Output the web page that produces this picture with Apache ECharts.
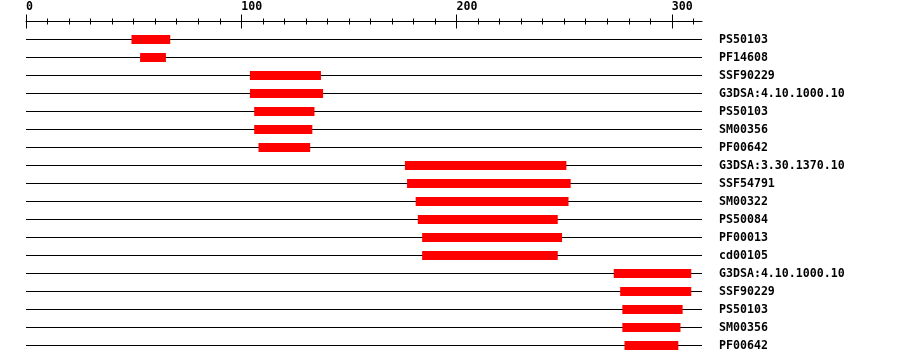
<!DOCTYPE html>
<html>
<head>
<meta charset="utf-8">
<script src="https://cdn.jsdelivr.net/npm/echarts@6/dist/echarts.min.js"></script>
<style>
html,body{margin:0;padding:0;background:#fff;}
#c{width:900px;height:364px;}
</style>
</head>
<body>
<div id="c"></div>
<script>
var rowLabels = ['PS50103','PF14608','SSF90229','G3DSA:4.10.1000.10','PS50103','SM00356','PF00642','G3DSA:3.30.1370.10','SSF54791','SM00322','PS50084','PF00013','cd00105','G3DSA:4.10.1000.10','SSF90229','PS50103','SM00356','PF00642'];
var starts = [49,53,104,104,106,106,108,176,177,181,182,184,184,273,276,277,277,278];
var ends   = [67,65,137,138,134,133,132,251,253,252,247,249,247,309,309,305,304,303];
var seqLength = 314;
var tickValues = [0,100,200,300];

var FONT = 'DejaVu Sans Mono';
var chart = echarts.init(document.getElementById('c'), null, {renderer:'canvas'});

var lineData = rowLabels.map(function(l,i){ return [0, seqLength, i]; });
var barData = rowLabels.map(function(l,i){ return [starts[i], ends[i], i]; });

var axisCommon = {
  type:'value', min:0, max:seqLength, interval:100, position:'top', offset:9,
  splitLine:{show:false}
};

chart.setOption({
  animation:false,
  backgroundColor:'#fff',
  grid:{left:26, right:198, top:30.5, height:324},
  xAxis:[
    Object.assign({}, axisCommon, {
      axisLine:{show:true, lineStyle:{color:'#000', width:1}},
      axisTick:{show:true, inside:false, length:7, lineStyle:{color:'#000'}, customValues:tickValues},
      minorTick:{show:true, splitNumber:10, length:3, lineStyle:{color:'#000'}},
      axisLabel:{show:true, align:'left', margin:9, color:'#000', fontFamily:FONT, fontWeight:'bold', fontSize:11.6, customValues:tickValues}
    }),
    Object.assign({}, axisCommon, {
      axisLine:{show:false},
      axisTick:{show:true, inside:true, length:7, lineStyle:{color:'#000'}, customValues:tickValues},
      minorTick:{show:true, splitNumber:10, length:3, lineStyle:{color:'#000'}},
      axisLabel:{show:false}
    })
  ],
  yAxis:{
    type:'category', data:rowLabels, inverse:true, position:'right',
    axisLine:{show:false}, axisTick:{show:false}, splitLine:{show:false},
    axisLabel:{interval:0, align:'left', margin:17, color:'#000', fontFamily:FONT, fontWeight:'bold', fontSize:11.6}
  },
  series:[
    {
      type:'custom', xAxisIndex:0, data:lineData,
      renderItem:function(params, api){
        var a = api.coord([api.value(0), api.value(2)]);
        var b = api.coord([api.value(1), api.value(2)]);
        return {type:'line', shape:{x1:a[0], y1:a[1], x2:b[0], y2:b[1]}, style:{stroke:'#000', lineWidth:1}};
      }
    },
    {
      type:'custom', xAxisIndex:0, data:barData,
      renderItem:function(params, api){
        var a = api.coord([api.value(0), api.value(2)]);
        var b = api.coord([api.value(1), api.value(2)]);
        var h = 9;
        return {type:'rect', shape:{x:a[0], y:a[1]-h/2, width:b[0]-a[0], height:h}, style:{fill:'#ff0000'}};
      }
    }
  ]
});
</script>
</body>
</html>
